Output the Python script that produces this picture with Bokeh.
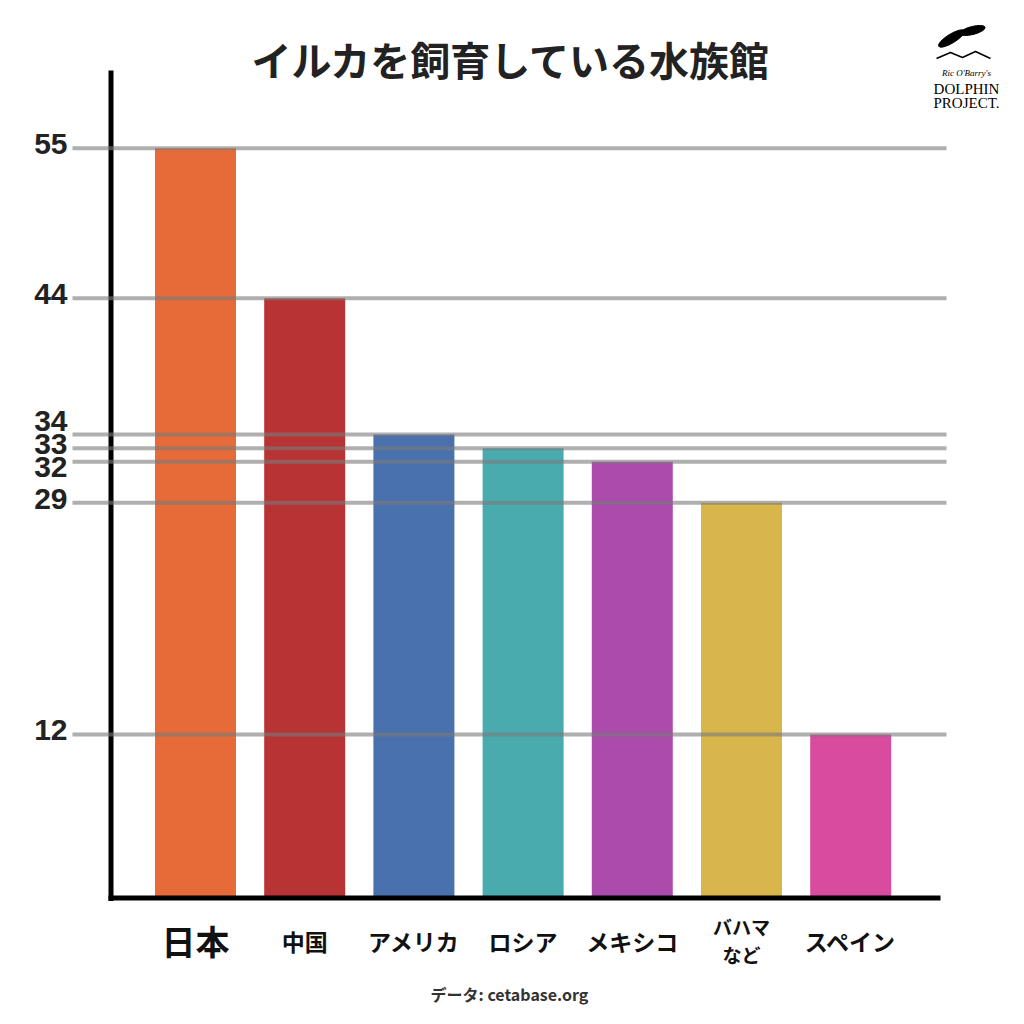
from bokeh.plotting import figure
from bokeh.models import ColumnDataSource, Range1d
from bokeh.core.properties import value
from bokeh.embed import file_html
from bokeh.resources import INLINE

# ---------------- data ----------------
countries = ["日本", "中国", "アメリカ", "ロシア", "メキシコ", "バハマ\nなど", "スペイン"]
aquariums = [55, 44, 34, 33, 32, 29, 12]
bar_colors = ["#E66B39", "#B83334", "#4971AE", "#4AABAF", "#AB4BAB", "#D8B64B", "#D84B9E"]
tick_values = [55, 44, 34, 33, 32, 29, 12]
tick_labels = ["55", "44", "34", "33", "32", "29", "12"]
title_text = "イルカを飼育している水族館"
source_text = "データ: cetabase.org"

# ---------------- layout (screenshot pixels) ----------------
W = H = 1008
OFF = 0
BAR0_PX = 195.0      # x of first bar centre
BAR_STEP_PX = 109.2  # px between bar centres
ZERO_PX = 897.5      # y of value 0 (x axis line)
PPU = 13.63          # px per unit


def X(px):
    return (px - BAR0_PX) / BAR_STEP_PX


def Y(py):
    return (ZERO_PX - py) / PPU


p = figure(width=W, height=H,
           x_range=Range1d(X(OFF), X(OFF + W)),
           y_range=Range1d(Y(OFF + H), Y(OFF)),
           x_axis_location=None, y_axis_location=None,
           min_border=0, toolbar_location=None, output_backend="svg",
           outline_line_color=None, background_fill_color="white",
           border_fill_color="white")
p.grid.visible = False

idx = list(range(len(countries)))

# bars
bars = ColumnDataSource(dict(x=idx, top=aquariums, color=bar_colors))
p.vbar(x="x", top="top", bottom=0, width=81 / BAR_STEP_PX, color="color",
       line_color=None, source=bars)

# axis lines
p.segment(x0=[X(110.5)], y0=[Y(900.5)], x1=[X(110.5)], y1=[Y(70)],
          line_color="black", line_width=5)
p.segment(x0=[X(108)], y0=[0], x1=[X(940)], y1=[0],
          line_color="black", line_width=5)

# grid lines at tick values (drawn over bars, semi transparent)
n = len(tick_values)
p.segment(x0=[X(72)] * n, y0=tick_values, x1=[X(946)] * n, y1=tick_values,
          line_color="#7a7a7a", line_alpha=0.6, line_width=4)

# tick labels, pushed apart where lines are too close
px = [ZERO_PX - v * PPU - 4 for v in tick_values]
order = sorted(range(n), key=lambda i: px[i])
pos = [px[i] for i in order]
GAP = 23
for _ in range(200):
    for k in range(len(pos) - 1):
        d = pos[k + 1] - pos[k]
        if d < GAP:
            s = (GAP - d) / 2
            pos[k] -= s
            pos[k + 1] += s
lab_y = [0] * n
for k, i in enumerate(order):
    lab_y[i] = Y(pos[k])
p.text(x=[X(67)] * n, y=lab_y, text=tick_labels, text_align="right",
       text_baseline="middle", text_font=value("Liberation Sans"),
       text_font_style="bold", text_font_size="30px", text_color="#222222")

# category labels
sizes = ["34px"] + ["23px"] * 4 + ["19px"] + ["23px"]
cats = ColumnDataSource(dict(x=idx, y=[Y(940)] * len(idx), t=countries, fs=sizes))
p.text(x="x", y="y", text="t", text_font_size="fs", source=cats,
       text_align="center", text_baseline="middle",
       text_font=value("Noto Sans CJK JP"), text_font_style="bold",
       text_color="#111111", text_line_height=1.05)

# title
p.text(x=[X(511)], y=[Y(58)], text=[title_text], text_align="center",
       text_baseline="middle", text_font=value("Noto Sans CJK JP"),
       text_font_style="bold", text_font_size="40px", text_color="#222222")

# source
p.text(x=[X(509)], y=[Y(993)], text=[source_text], text_align="center",
       text_baseline="middle", text_font=value("Noto Sans CJK JP"),
       text_font_style="bold", text_font_size="16px", text_color="#333333")

# logo (approximation)
p.ellipse(x=[X(951), X(972)], y=[Y(38), Y(30)], width=[30, 26], height=[9, 8],
          angle=[0.55, 0.25], width_units="screen", height_units="screen",
          color="black")
p.line(x=[X(936), X(950), X(962), X(975), X(990)],
       y=[Y(58), Y(52), Y(57), Y(51), Y(58)], line_color="black", line_width=1.5)
p.text(x=[X(966)], y=[Y(72)], text=["Ric O'Barry's"], text_align="center",
       text_baseline="middle", text_font=value("Liberation Serif"),
       text_font_style="italic", text_font_size="9px", text_color="black")
p.text(x=[X(966), X(966)], y=[Y(88), Y(102)], text=["DOLPHIN", "PROJECT."],
       text_align="center", text_baseline="middle",
       text_font=value("Liberation Serif"), text_font_size="15px",
       text_color="black")

open("out.html", "w").write(file_html(p, INLINE))
